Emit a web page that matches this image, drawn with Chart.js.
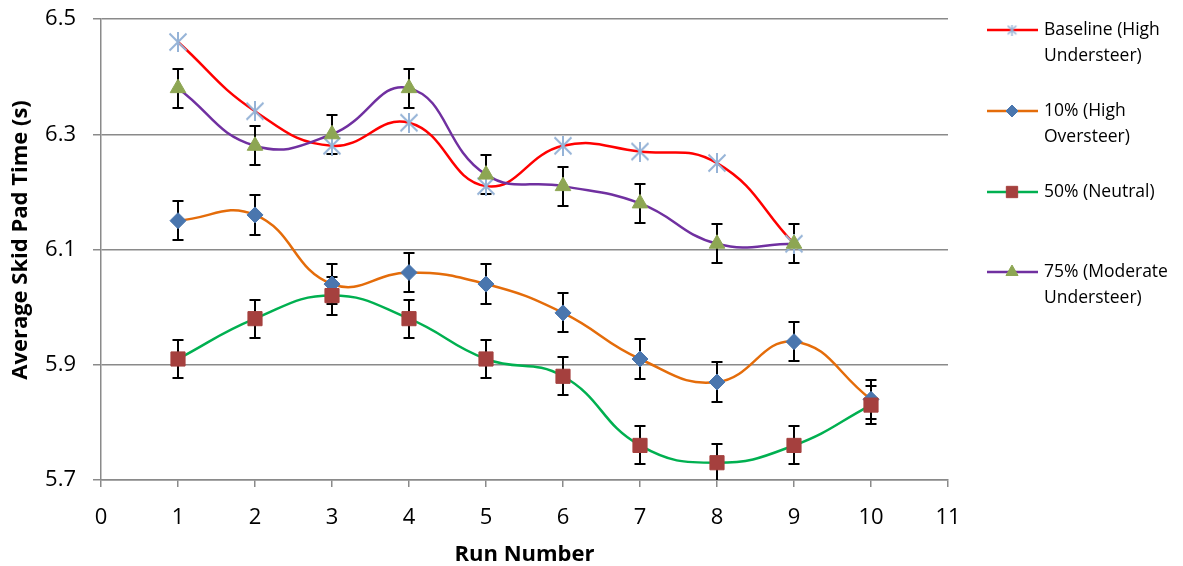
<!DOCTYPE html>
<html><head><meta charset="utf-8">
<script src="https://cdn.jsdelivr.net/npm/chart.js@4.4.0/dist/chart.umd.min.js"></script>
<style>html,body{margin:0;padding:0;background:#fff;}#wrap{width:1183px;height:566px;position:relative;}</style>
</head><body>
<div id="wrap"><canvas id="c" width="1183" height="566"></canvas></div>
<script>
const runsAll = [1,2,3,4,5,6,7,8,9,10];
const runs9 = [1,2,3,4,5,6,7,8,9];
const seriesNames = ['Baseline (High Understeer)', '10% (High Oversteer)', '50% (Neutral)', '75% (Moderate Understeer)'];
const legendLines = [['Baseline (High','Understeer)'],['10% (High','Oversteer)'],['50% (Neutral)'],['75% (Moderate','Understeer)']];
const baseline = [6.46,6.34,6.28,6.32,6.21,6.28,6.27,6.25,6.11];
const pct10 = [6.15,6.16,6.04,6.06,6.04,5.99,5.91,5.87,5.94,5.84];
const pct50 = [5.91,5.98,6.02,5.98,5.91,5.88,5.76,5.73,5.76,5.83];
const pct75 = [6.38,6.28,6.30,6.38,6.23,6.21,6.18,6.11,6.11];
const err10 = [0.034,0.034,0.034,0.034,0.034,0.034,0.034,0.034,0.034,0.034];
const err50 = [0.033,0.033,0.033,0.033,0.033,0.033,0.033,0.033,0.033,0.033];
const err75 = [0.034,0.034,0.034,0.034,0.034,0.034,0.034,0.034,0.034];
const yTickValues = [5.7,5.9,6.1,6.3,6.5];
const xTickValues = [0,1,2,3,4,5,6,7,8,9,10,11];
const xTitle = 'Run Number';
const yTitle = 'Average Skid Pad Time (s)';

const FONT = '"Open Sans", sans-serif';

function makeStar(size, lw){
  const c = document.createElement('canvas');
  c.width = size; c.height = size;
  const g = c.getContext('2d');
  g.strokeStyle = '#95B3D7'; g.lineWidth = lw;
  const m = lw/2+0.5, s = size;
  g.beginPath();
  g.moveTo(m,m); g.lineTo(s-m,s-m);
  g.moveTo(s-m,m); g.lineTo(m,s-m);
  g.moveTo(s/2,0); g.lineTo(s/2,s);
  g.stroke();
  return c;
}
const starBig = makeStar(20, 2);
const starSmall = makeStar(11, 1.5);

function pts(xs, ys){ return ys.map((v,i)=>({x:xs[i], y:v})); }

const errorBarPlugin = {
  id:'errorBars',
  beforeDatasetsDraw(chart){
    const {ctx, chartArea, scales} = chart;
    const x = scales.x, y = scales.y;
    ctx.save();
    ctx.beginPath();
    ctx.rect(chartArea.left, chartArea.top-2, chartArea.right-chartArea.left, chartArea.bottom-chartArea.top+2);
    ctx.clip();
    ctx.strokeStyle = '#000'; ctx.lineWidth = 2;
    chart.data.datasets.forEach(ds=>{
      if(!ds.errors) return;
      ds.data.forEach((p,i)=>{
        const e = ds.errors[i];
        const px = Math.round(x.getPixelForValue(p.x));
        const yt = Math.round(y.getPixelForValue(p.y+e));
        const yb = Math.round(y.getPixelForValue(p.y-e));
        ctx.beginPath();
        ctx.moveTo(px,yt); ctx.lineTo(px,yb);
        ctx.moveTo(px-5.5,yt); ctx.lineTo(px+5.5,yt);
        ctx.moveTo(px-5.5,yb); ctx.lineTo(px+5.5,yb);
        ctx.stroke();
      });
    });
    ctx.restore();
  }
};

const yTitlePlugin = {
  id:'yTitle',
  afterDraw(chart){
    const ctx = chart.ctx;
    ctx.save();
    ctx.translate(21, 240);
    ctx.rotate(-Math.PI/2);
    ctx.font = 'bold 22px ' + FONT;
    ctx.fillStyle = '#000';
    ctx.textAlign = 'center';
    ctx.textBaseline = 'middle';
    ctx.fillText(yTitle, 0, 0);
    ctx.restore();
  }
};

const legendRowsY = [30, 111, 192, 272];
const legendPlugin = {
  id:'sideLegend',
  afterDraw(chart){
    const ctx = chart.ctx;
    ctx.save();
    chart.data.datasets.forEach((ds,i)=>{
      const y0 = legendRowsY[i];
      ctx.strokeStyle = ds.borderColor; ctx.lineWidth = 2.5;
      ctx.beginPath(); ctx.moveTo(987,y0); ctx.lineTo(1038,y0); ctx.stroke();
      ctx.fillStyle = ds.pointBackgroundColor; ctx.strokeStyle = ds.pointBorderColor; ctx.lineWidth = 1;
      const ps = ds.legendStyle || ds.pointStyle;
      Chart.helpers.drawPoint(ctx, {pointStyle: ps, radius: ds.legendRadius, rotation:0, borderWidth:1}, 1012, y0);
      ctx.fillStyle = '#000';
      ctx.font = '17.5px ' + FONT;
      ctx.textBaseline = 'middle';
      ctx.textAlign = 'left';
      legendLines[i].forEach((t,k)=>ctx.fillText(t, 1044, y0 + k*26));
    });
    ctx.restore();
  }
};

const datasets = [
  {label: seriesNames[0], order:4, data: pts(runs9, baseline), borderColor:'#FF0000', borderWidth:2.5, tension:0.45,
   pointStyle: starBig, legendStyle: starSmall, legendRadius:6, pointBackgroundColor:'#95B3D7', pointBorderColor:'#95B3D7', radius:10},
  {label: seriesNames[1], order:3, data: pts(runsAll, pct10), errors: err10, borderColor:'#E46C0A', borderWidth:2.5, tension:0.45,
   pointStyle:'rectRot', legendRadius:6, pointBackgroundColor:'#4A76AE', pointBorderColor:'#4A76AE', pointBorderWidth:1, radius:8},
  {label: seriesNames[2], order:2, data: pts(runsAll, pct50), errors: err50, borderColor:'#00B050', borderWidth:2.5, tension:0.45,
   pointStyle:'rect', legendRadius:8, pointBackgroundColor:'#A5403E', pointBorderColor:'#A5403E', pointBorderWidth:1, radius:10},
  {label: seriesNames[3], order:1, data: pts(runs9, pct75), errors: err75, borderColor:'#7030A0', borderWidth:2.5, tension:0.45,
   pointStyle:'triangle', legendRadius:7, pointBackgroundColor:'#8DA653', pointBorderColor:'#8DA653', pointBorderWidth:1, radius:9}
];

new Chart(document.getElementById('c'), {
  type:'scatter',
  data:{datasets},
  options:{
    responsive:false, animation:false, showLine:true,
    layout:{padding:{top:19, right:235, left:0, bottom:0}},
    elements:{line:{fill:false}},
    plugins:{legend:{display:false}, tooltip:{enabled:false}},
    scales:{
      x:{type:'linear', min:0, max:11,
        afterBuildTicks(s){ s.ticks = xTickValues.map(v=>({value:v})); },
        afterFit(s){ s.height = 86; s.paddingLeft = 0; s.paddingRight = 0; },
        grid:{drawOnChartArea:false, drawTicks:true, tickLength:7, color:'#8a8a8a', lineWidth:1.5},
        border:{color:'#8a8a8a', width:1.5},
        ticks:{color:'#000', font:{family:FONT, size:22}, padding:18, maxRotation:0, autoSkip:false},
        title:{display:true, text:xTitle, color:'#000', font:{family:FONT, size:22, weight:'bold'}, padding:{top:-2, bottom:-2}}
      },
      y:{type:'linear', min:5.7, max:6.5,
        afterBuildTicks(s){ s.ticks = yTickValues.map(v=>({value:v})); },
        afterFit(s){ s.width = 101; s.paddingTop = 0; s.paddingBottom = 0; },
        grid:{color:'#8a8a8a', lineWidth:1.5, tickLength:8},
        border:{color:'#8a8a8a', width:1.5},
        ticks:{color:'#000', font:{family:FONT, size:22}, padding:17, callback:v=>Number(v).toFixed(1)},
        title:{display:false}
      }
    }
  },
  plugins:[errorBarPlugin, legendPlugin, yTitlePlugin]
});
</script>
</body></html>
